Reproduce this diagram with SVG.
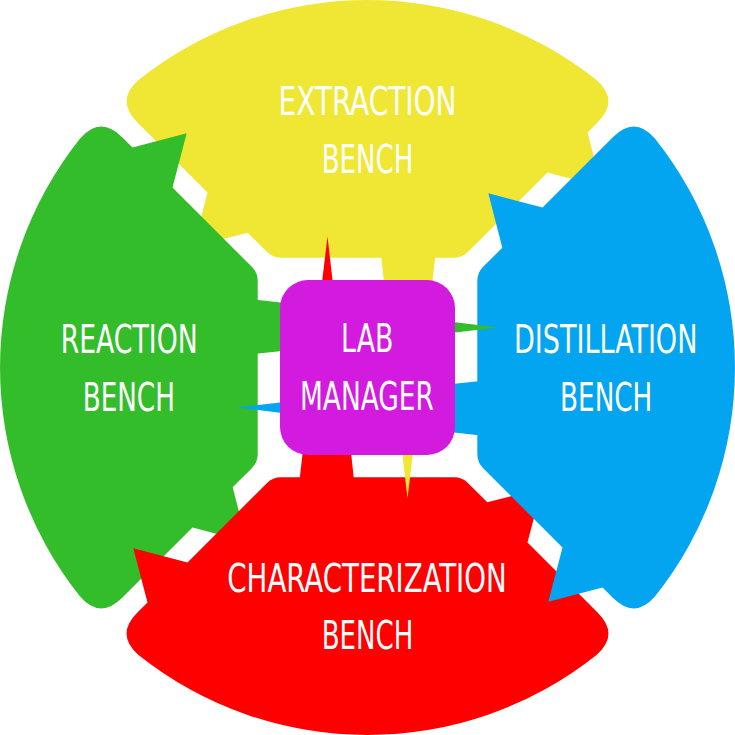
<svg xmlns="http://www.w3.org/2000/svg" xmlns:xlink="http://www.w3.org/1999/xlink" width="735" height="735" viewBox="0 0 735 735">
<style>
.lbl{font-family:"Liberation Sans Narrow","DejaVu Sans Condensed","Liberation Sans",sans-serif;font-size:39px;fill:#ffffff;text-anchor:middle;}
</style>
<defs>
<path id="benchShape" d="M137.2,122.2 Q115.25,100.25 138.5,80.1 A367.5,367.5 0 0 1 596.5,80.1 Q619.75,100.25 597.8,122.2 L587.5,132.5 L601.7,186.7 L547.5,172.5 L468.2,251.8 Q462.3,257.7 454,257.7 L281,257.7 Q272.7,257.7 266.8,251.8 L247.7,232.7 L193.3,246.7 L207.5,192.5 Z"/>
<path id="connShape" d="M380.5,250 L436,250 L412.7,455 L407.5,498.5 L402.5,455 Z"/>
</defs>
<rect width="735" height="735" fill="#ffffff"/>
<g id="extraction">
<use xlink:href="#benchShape" href="#benchShape" fill="#F0E735"/>
<text class="lbl" x="367.5" y="115" textLength="178" lengthAdjust="spacingAndGlyphs">EXTRACTION</text>
<text class="lbl" x="367.5" y="172.7" textLength="91.6" lengthAdjust="spacingAndGlyphs">BENCH</text>
</g>
<g id="reaction">
<use xlink:href="#benchShape" href="#benchShape" fill="#33BD2A" transform="rotate(-90 367.5 367.5)"/>
<text class="lbl" x="129.2" y="352.7" textLength="137" lengthAdjust="spacingAndGlyphs">REACTION</text>
<text class="lbl" x="128.8" y="410.7" textLength="92.3" lengthAdjust="spacingAndGlyphs">BENCH</text>
</g>
<g id="characterization">
<use xlink:href="#benchShape" href="#benchShape" fill="#FE0000" transform="rotate(180 367.5 367.5)"/>
<text class="lbl" x="367" y="591.7" textLength="279.4" lengthAdjust="spacingAndGlyphs">CHARACTERIZATION</text>
<text class="lbl" x="367.5" y="649" textLength="91.6" lengthAdjust="spacingAndGlyphs">BENCH</text>
</g>
<g id="distillation">
<use xlink:href="#benchShape" href="#benchShape" fill="#03A5F0" transform="rotate(90 367.5 367.5)"/>
<text class="lbl" x="605.7" y="352.7" textLength="183.3" lengthAdjust="spacingAndGlyphs">DISTILLATION</text>
<text class="lbl" x="606.2" y="410.7" textLength="92.3" lengthAdjust="spacingAndGlyphs">BENCH</text>
</g>
<g id="connectors">
<use xlink:href="#connShape" href="#connShape" fill="#F0E735"/>
<use xlink:href="#connShape" href="#connShape" fill="#33BD2A" transform="rotate(-90 367.5 367.5)"/>
<use xlink:href="#connShape" href="#connShape" fill="#FE0000" transform="rotate(180 367.5 367.5)"/>
<use xlink:href="#connShape" href="#connShape" fill="#03A5F0" transform="rotate(90 367.5 367.5)"/>
</g>
<g id="lab-manager">
<rect x="280" y="280" width="175" height="175" rx="28" ry="28" fill="#D31BE0"/>
<text class="lbl" x="367.2" y="351.7" textLength="52.3" lengthAdjust="spacingAndGlyphs">LAB</text>
<text class="lbl" x="367" y="410" textLength="134" lengthAdjust="spacingAndGlyphs">MANAGER</text>
</g>
</svg>
